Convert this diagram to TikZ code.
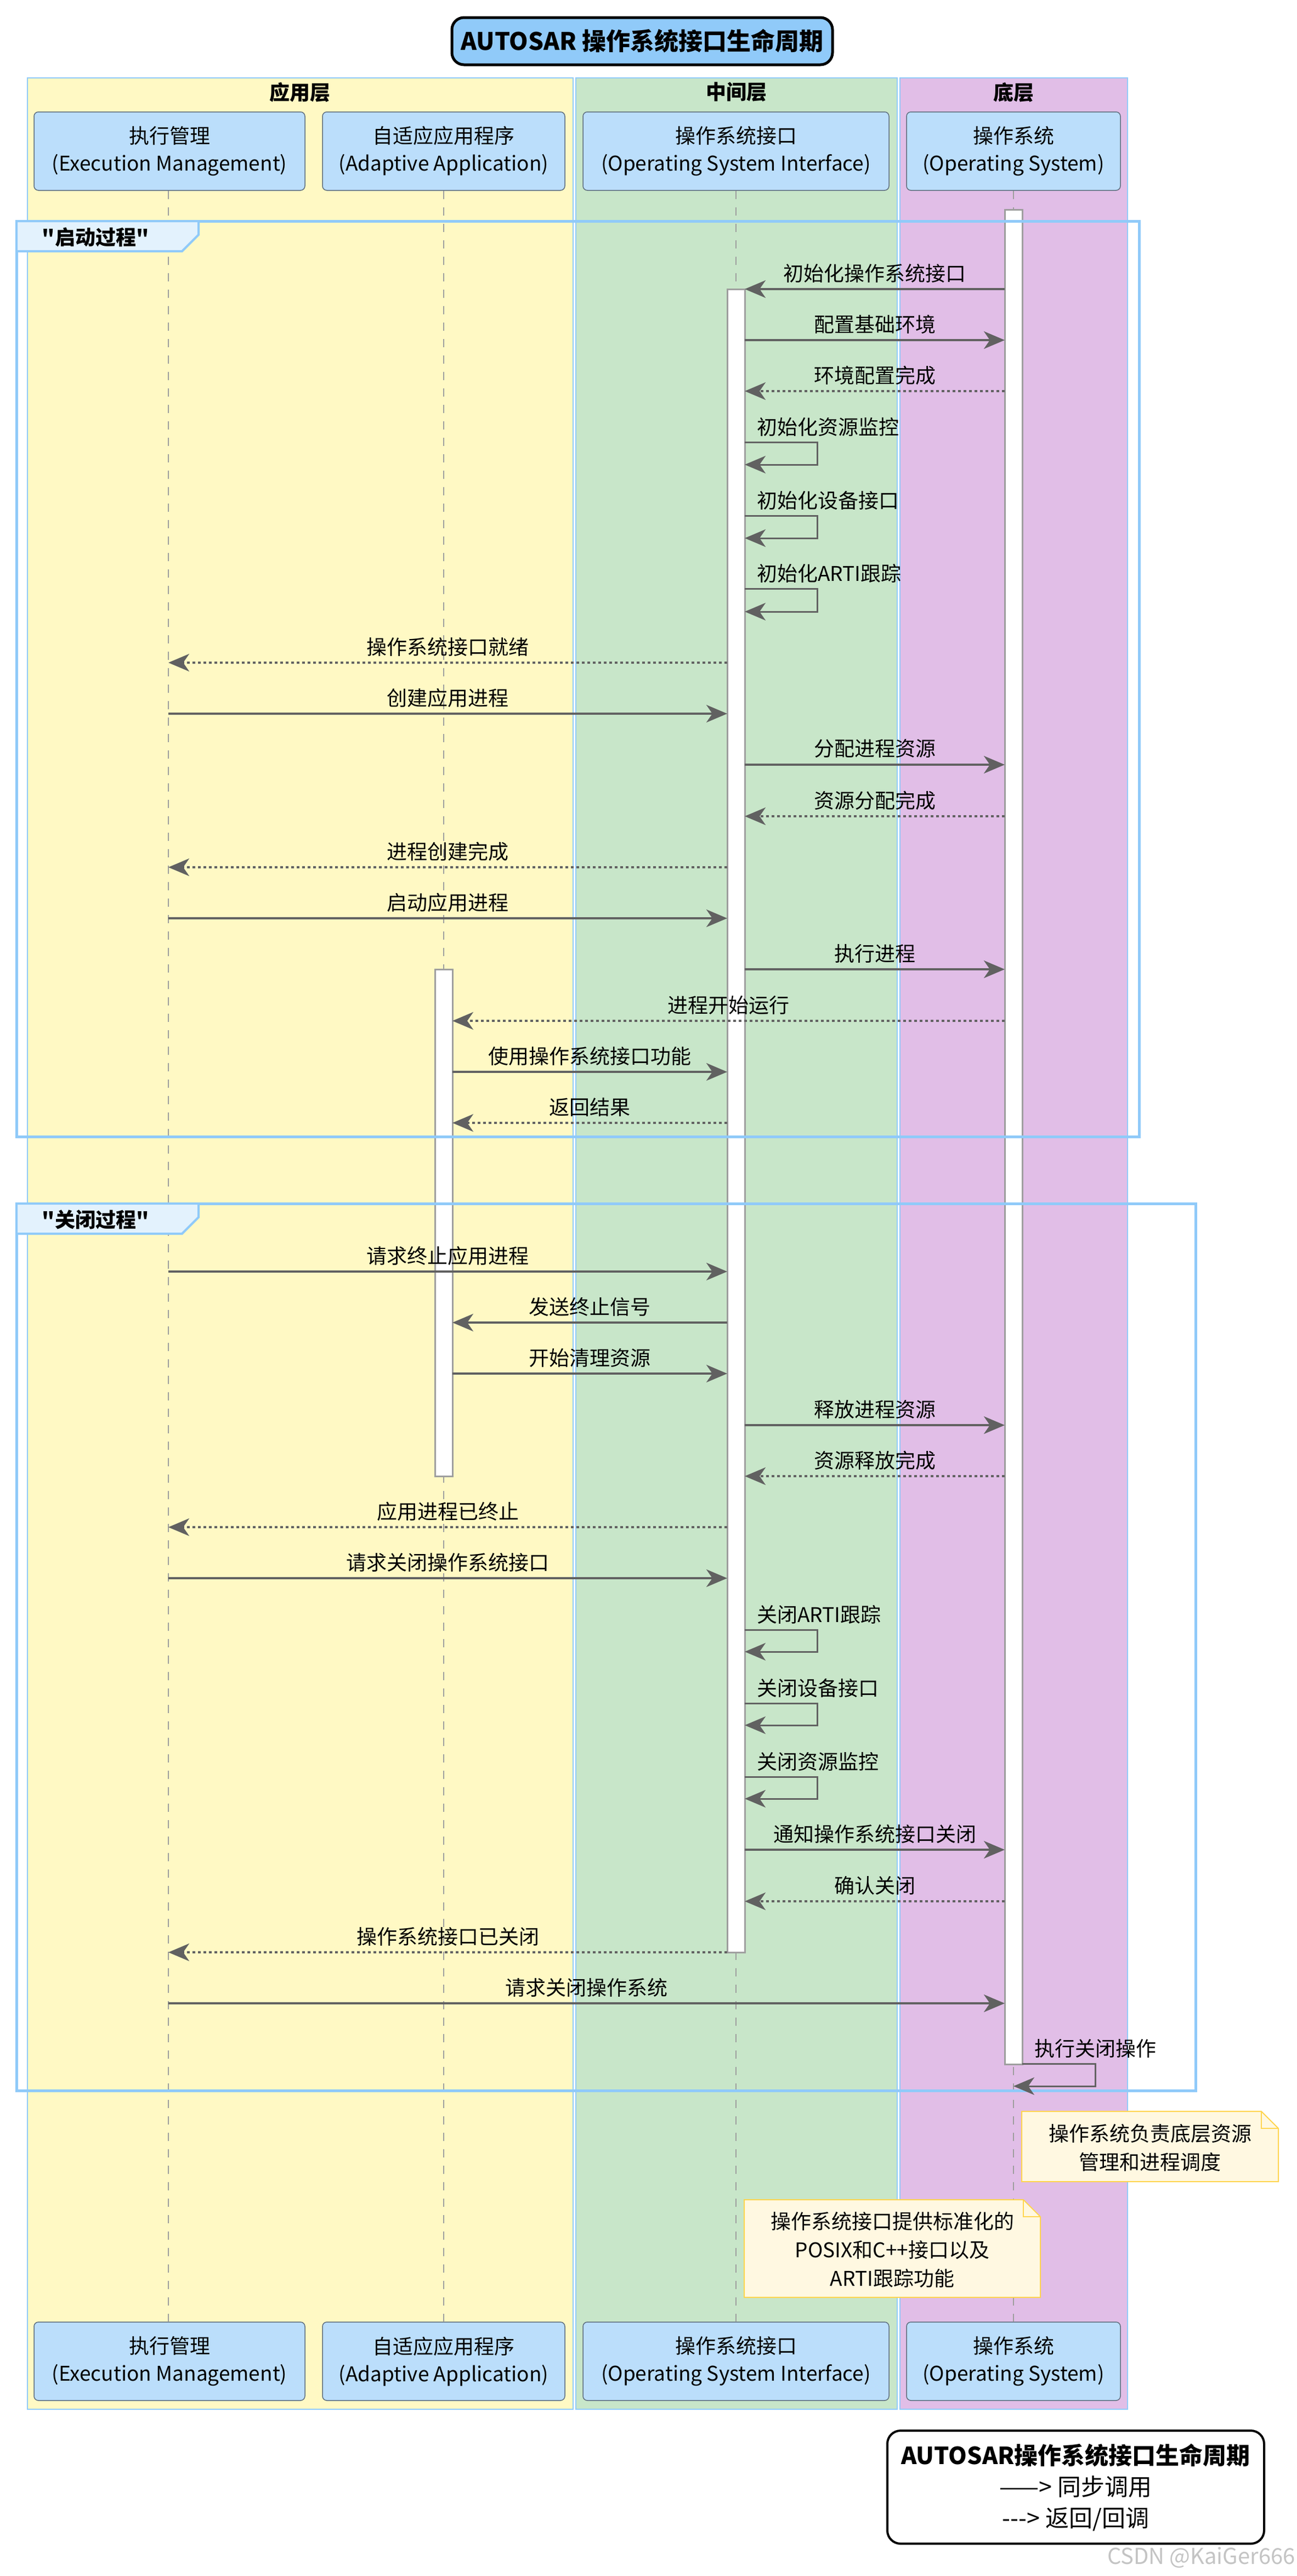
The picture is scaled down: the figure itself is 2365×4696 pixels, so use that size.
\documentclass[tikz,border=0pt]{standalone}
\usepackage{fontspec}
\setmainfont{Noto Sans CJK SC}[Ligatures=TeXOff]
\usetikzlibrary{arrows.meta,calc}
\definecolor{laneA}{HTML}{FFF9C4}
\definecolor{laneB}{HTML}{C8E6C9}
\definecolor{laneC}{HTML}{E1BEE7}
\definecolor{laneedge}{HTML}{90CAF9}
\definecolor{titlefill}{HTML}{90CAF9}
\definecolor{partfill}{HTML}{BBDEFB}
\definecolor{partedge}{HTML}{5F6F7F}
\definecolor{tabfill}{HTML}{E3F2FD}
\definecolor{arrowc}{HTML}{616161}
\definecolor{barc}{HTML}{9E9E9E}
\definecolor{notefill}{HTML}{FFF8E1}
\definecolor{noteedge}{HTML}{FFD54F}
\definecolor{wmc}{HTML}{C4C4C4}

\newcommand\seqmsg[6]{%
  \draw[#5] (#3 |- 0,#2) -- (#4 |- 0,#2) node[midway, yshift=29pt, msglbl] (#1) {#6};}
\newcommand\selfmsg[7]{%
  \draw[selfst] (#4 |- 0,#2) -- (#5,#2) -- (#5,#3) -- (#6 |- 0,#3);
  \node[msglbl, anchor=west] (#1) at ($(#4 |- 0,#2)+(22,-28)$) {#7};}
\newcommand\notebox[6]{% name, x1, y1, x2, y2, text
  \draw[notest] (#2,#3) -- ({#4-31},#3) -- (#4,{#3+31}) -- (#4,#5) -- (#2,#5) -- cycle;
  \draw[noteedge, line width=2pt] ({#4-31},#3) -- ({#4-31},{#3+31}) -- (#4,{#3+31});
  \node[notetext] (#1) at ({(#2+#4)/2},{(#3+#5)/2+2}) {#6};}

\begin{document}
\begin{tikzpicture}[x=1pt,y=-1pt,
  lane/.style={draw=laneedge, line width=2pt},
  part/.style={draw=partedge, fill=partfill, line width=1.5pt, rounded corners=8pt,
     minimum height=143pt, align=center, inner sep=0pt,
     font=\fontsize{37}{50}\selectfont},
  hdr/.style={font=\bfseries\fontsize{37}{44}\selectfont, inner sep=0pt},
  lifeln/.style={draw=barc, line width=2pt, dash pattern=on 15pt off 15pt},
  actbar/.style={draw=barc, fill=white, line width=3pt},
  tip/.style={-{Stealth[length=38pt,width=32pt,inset=11pt]}},
  sync/.style={draw=arrowc, line width=3.5pt, tip},
  ret/.style={draw=arrowc, line width=3.5pt, dash pattern=on 5pt off 5pt, tip},
  selfst/.style={draw=arrowc, line width=3pt, tip},
  msglbl/.style={font=\fontsize{37}{44}\selectfont, inner sep=0pt, text=black},
  framest/.style={draw=laneedge, line width=5pt},
  tabst/.style={draw=laneedge, fill=tabfill, line width=4pt, line join=miter},
  notest/.style={draw=noteedge, fill=notefill, line width=2pt},
  notetext/.style={font=\fontsize{37}{52}\selectfont, align=center, inner sep=0pt},
]
% canvas
\fill[white] (0,0) rectangle (2365,4696);
\useasboundingbox (0,0) rectangle (2365,4696);

% lanes
\draw[lane, fill=laneA] (50,142) rectangle (1045,4392);
\draw[lane, fill=laneB] (1050,142) rectangle (1636,4392);
\draw[lane, fill=laneC] (1641,142) rectangle (2056,4392);
\node[hdr] (hA) at (547,168) {应用层};
\node[hdr] (hB) at (1343,168) {中间层};
\node[hdr] (hC) at (1848,168) {底层};

% title
\node[draw=black, fill=titlefill, line width=5pt, rounded corners=22pt,
      minimum width=694pt, minimum height=86pt, inner sep=0pt,
      font=\bfseries\fontsize{44}{52}\selectfont] (title) at (1171,75)
      {AUTOSAR 操作系统接口生命周期};

% lifeline coordinates
\coordinate (emL) at (307,0);
\coordinate (aaL) at (809,0);
\coordinate (aaBL) at (793,0);
\coordinate (aaBR) at (825,0);
\coordinate (osiL) at (1342,0);
\coordinate (osiBL) at (1326,0);
\coordinate (osiBR) at (1358,0);
\coordinate (osL) at (1848,0);
\coordinate (osBL) at (1832,0);
\coordinate (osBR) at (1864,0);

% participants
\node[part, minimum width=494pt] (emTop) at (309,275.5) {执行管理\\(Execution Management)};
\node[part, minimum width=442pt] (aaTop) at (809,275.5) {自适应应用程序\\(Adaptive Application)};
\node[part, minimum width=558pt] (osiTop) at (1342,275.5) {操作系统接口\\(Operating System Interface)};
\node[part, minimum width=390pt] (osTop) at (1848,275.5) {操作系统\\(Operating System)};
\node[part, minimum width=494pt] (emBot) at (309,4304.5) {执行管理\\(Execution Management)};
\node[part, minimum width=442pt] (aaBot) at (809,4304.5) {自适应应用程序\\(Adaptive Application)};
\node[part, minimum width=558pt] (osiBot) at (1342,4304.5) {操作系统接口\\(Operating System Interface)};
\node[part, minimum width=390pt] (osBot) at (1848,4304.5) {操作系统\\(Operating System)};

% lifelines
\draw[lifeln] (emL |- emTop.south) -- (emL |- emBot.north);
\draw[lifeln] (aaL |- aaTop.south) -- (aaL |- aaBot.north);
\draw[lifeln] (osiL |- osiTop.south) -- (osiL |- osiBot.north);
\draw[lifeln] (osL |- osTop.south) -- (osL |- osBot.north);

% activation bars
\draw[actbar] (1832,382) rectangle (1864,3763);
\draw[actbar] (1326,527) rectangle (1358,3559);
\draw[actbar] (793,1767) rectangle (825,2691);

% frames
\draw[framest] (30,403) rectangle (2077,2072);
\draw[tabst] (30,403) -- (362,403) -- (362,428) -- (332,458) -- (30,458) -- cycle;
\node[hdr] (tab1) at (174,432) {"启动过程"};
\draw[framest] (30,2194) rectangle (2180,3811);
\draw[tabst] (30,2194) -- (362,2194) -- (362,2219) -- (332,2249) -- (30,2249) -- cycle;
\node[hdr] (tab2) at (174,2223) {"关闭过程"};

% startup messages
\seqmsg{m1}{527}{osBL}{osiBR}{sync}{初始化操作系统接口}
\seqmsg{m2}{620}{osiBR}{osBL}{sync}{配置基础环境}
\seqmsg{m3}{713}{osBL}{osiBR}{ret}{环境配置完成}
\selfmsg{m4}{806}{847}{osiBR}{1490}{osiBR}{初始化资源监控}
\selfmsg{m5}{940}{981}{osiBR}{1490}{osiBR}{初始化设备接口}
\selfmsg{m6}{1073}{1115}{osiBR}{1490}{osiBR}{初始化ARTI跟踪}
\seqmsg{m7}{1208}{osiBL}{emL}{ret}{操作系统接口就绪}
\seqmsg{m8}{1301}{emL}{osiBL}{sync}{创建应用进程}
\seqmsg{m9}{1394}{osiBR}{osBL}{sync}{分配进程资源}
\seqmsg{m10}{1488}{osBL}{osiBR}{ret}{资源分配完成}
\seqmsg{m11}{1581}{osiBL}{emL}{ret}{进程创建完成}
\seqmsg{m12}{1674}{emL}{osiBL}{sync}{启动应用进程}
\seqmsg{m13}{1767}{osiBR}{osBL}{sync}{执行进程}
\seqmsg{m14}{1861}{osBL}{aaBR}{ret}{进程开始运行}
\seqmsg{m15}{1954}{aaBR}{osiBL}{sync}{使用操作系统接口功能}
\seqmsg{m16}{2047}{osiBL}{aaBR}{ret}{返回结果}

% shutdown messages
\seqmsg{m17}{2318}{emL}{osiBL}{sync}{请求终止应用进程}
\seqmsg{m18}{2411}{osiBL}{aaBR}{sync}{发送终止信号}
\seqmsg{m19}{2504}{aaBR}{osiBL}{sync}{开始清理资源}
\seqmsg{m20}{2598}{osiBR}{osBL}{sync}{释放进程资源}
\seqmsg{m21}{2691}{osBL}{osiBR}{ret}{资源释放完成}
\seqmsg{m22}{2784}{osiBL}{emL}{ret}{应用进程已终止}
\seqmsg{m23}{2877}{emL}{osiBL}{sync}{请求关闭操作系统接口}
\selfmsg{m24}{2971}{3011}{osiBR}{1490}{osiBR}{关闭ARTI跟踪}
\selfmsg{m25}{3105}{3145}{osiBR}{1490}{osiBR}{关闭设备接口}
\selfmsg{m26}{3239}{3279}{osiBR}{1490}{osiBR}{关闭资源监控}
\seqmsg{m27}{3372}{osiBR}{osBL}{sync}{通知操作系统接口关闭}
\seqmsg{m28}{3466}{osBL}{osiBR}{ret}{确认关闭}
\seqmsg{m29}{3559}{osiBL}{emL}{ret}{操作系统接口已关闭}
\seqmsg{m30}{3652}{emL}{osBL}{sync}{请求关闭操作系统}
\selfmsg{m31}{3762}{3803}{osBR}{1997}{osL}{执行关闭操作}

% notes
\notebox{n1}{1863}{3849}{2331}{3977}{操作系统负责底层资源\\管理和进程调度}
\notebox{n2}{1357}{4010}{1897}{4188}{操作系统接口提供标准化的\\POSIX和C++接口以及\\ARTI跟踪功能}

% legend
\node[draw=black, fill=white, line width=4pt, rounded corners=24pt,
      minimum width=687pt, minimum height=206pt, inner sep=0pt, align=center,
      font=\fontsize{43}{57}\selectfont] (legend) at (1961.5,4534)
      {\textbf{AUTOSAR操作系统接口生命周期}\\——> 同步调用\\---> 返回/回调};

% watermark
\node[anchor=east, text=wmc, inner sep=0pt, font=\fontsize{40}{44}\selectfont] (wm) at (2362,4662) {CSDN @KaiGer666};
\end{tikzpicture}
\end{document}
